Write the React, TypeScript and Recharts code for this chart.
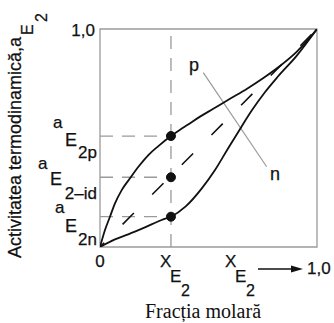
import React from 'react';
import { LineChart, Line, XAxis, YAxis, ReferenceArea, ReferenceLine, ReferenceDot } from 'recharts';

// curba p (abatere pozitiva)
const pX = [0, 0.023, 0.046, 0.069, 0.1, 0.138, 0.177, 0.223, 0.269, 0.327, 0.369, 0.4, 0.461, 0.522, 0.599, 0.676, 0.753, 0.829, 0.906, 0.96, 1];
const pY = [0, 0.078, 0.139, 0.2, 0.261, 0.315, 0.368, 0.422, 0.463, 0.509, 0.538, 0.558, 0.598, 0.634, 0.68, 0.725, 0.775, 0.83, 0.895, 0.952, 1];

// curba n (abatere negativa)
const nX = [0, 0.069, 0.13, 0.207, 0.284, 0.327, 0.395, 0.47, 0.53, 0.59, 0.652, 0.7, 0.76, 0.82, 0.906, 1];
const nY = [0, 0.035, 0.058, 0.09, 0.124, 0.139, 0.186, 0.27, 0.353, 0.452, 0.552, 0.627, 0.71, 0.782, 0.877, 1];

// solutie ideala
const idX = [0, 1];
const idY = [0, 1];

// compozitia aleasa si activitatile citite
const xE2 = 0.327;
const aValues = [0.139, 0.32, 0.509]; // n, id, p
const aSubs = ['2n', '2–id', '2p'];

const yTicks = [...aValues, 1];
const xTicks = [0, xE2, 1];

// linia de indicatie p - n
const leaderX = [0.476, 0.768];
const leaderY = [0.8, 0.368];
const curveLabels = ['p', 'n'];
const curveLabelX = [0.433, 0.806];
const curveLabelY = [0.807, 0.307];

const pData = pX.map((x, i) => ({ x, y: pY[i] }));
const nData = nX.map((x, i) => ({ x, y: nY[i] }));
const idData = idX.map((x, i) => ({ x, y: idY[i] }));

const SANS = 'Liberation Sans, Arial, sans-serif';
const SERIF = 'Liberation Serif, Times New Roman, serif';
const INK = '#111';
const GRAY = '#9a9a9a';
const TXT = { fontFamily: SANS, fill: INK, stroke: INK, strokeWidth: 0.25 };

// pozitia bucatilor de text pentru a, E si indice (n, id, p)
const aLayout = [
  { ax: 55, ay: -4, ex: 65, ey: 15, sy: 28 },
  { ax: 38, ay: -8, ex: 50, ey: 8, sy: 22 },
  { ax: 53, ay: -8, ex: 65, ey: 10, sy: 22 },
];

const YTick = (props: any) => {
  const { y, payload } = props;
  const v = payload.value;
  if (v === 1) {
    return (
      <text x={95} y={y + 7} textAnchor="end" fontSize={17} {...TXT}>1,0</text>
    );
  }
  const i = aValues.indexOf(v);
  if (i < 0) return null;
  const l = aLayout[i];
  return (
    <g {...TXT}>
      <text x={l.ax} y={y + l.ay} fontSize={17}>a</text>
      <text x={l.ex} y={y + l.ey} fontSize={18}>E</text>
      <text x={97} y={y + l.sy} fontSize={17} textAnchor="end">{aSubs[i]}</text>
    </g>
  );
};

const XE2 = ({ x }: { x: number }) => (
  <g {...TXT}>
    <text x={x} y={267} fontSize={17}>X</text>
    <text x={x + 10} y={282} fontSize={17}>E</text>
    <text x={x + 21} y={296} fontSize={16}>2</text>
  </g>
);

const XTick = (props: any) => {
  const { x, payload } = props;
  const v = payload.value;
  if (v === 0) {
    return <text x={x} y={267} textAnchor="middle" fontSize={17} {...TXT}>0</text>;
  }
  if (v === 1) {
    return (
      <g>
        <XE2 x={x - 92} />
        <line x1={x - 59} y1={269} x2={x - 24} y2={269} stroke={INK} strokeWidth={1.5} />
        <polygon points={`${x - 26},${265.5} ${x - 14},${269} ${x - 26},${272.5}`} fill={INK} />
        <text x={x - 10} y={274} fontSize={17} {...TXT}>1,0</text>
      </g>
    );
  }
  return <XE2 x={x - 11} />;
};

const YTitle = () => (
  <g transform="translate(21,258) rotate(-90)" {...TXT}>
    <text x={0} y={0} fontSize={18}>Activitatea termodinamică,a</text>
    <text x={223} y={12} fontSize={16}>E</text>
    <text x={236} y={26} fontSize={16}>2</text>
  </g>
);

const XTitle = () => (
  <text x={203} y={318} textAnchor="middle" fontSize={20} fontFamily={SERIF} fill={INK}>Fracția molară</text>
);

const CurveLabel = (text: string) => (props: any) => {
  const vb = props.viewBox || {};
  const cx = (vb.x ?? 0) + (vb.width ?? 0) / 2;
  const cy = (vb.y ?? 0) + (vb.height ?? 0) / 2;
  return (
    <text x={cx} y={cy} textAnchor="middle" fontSize={18} {...TXT}>{text}</text>
  );
};

const App: React.FC = () => {
  return (
    <div style={{ width: 334, height: 323, background: '#fff' }}>
      <style>{'body{margin:0}'}</style>
      <LineChart width={334} height={323} margin={{ top: 29, right: 17, left: 0, bottom: 0 }}>
        <XAxis
          type="number"
          dataKey="x"
          domain={[0, 1]}
          ticks={xTicks}
          tick={<XTick />}
          tickSize={0}
          tickMargin={0}
          axisLine={false}
          tickLine={false}
          height={76}
          interval={0}
          allowDataOverflow
          label={{ content: <XTitle /> }}
        />
        <YAxis
          type="number"
          dataKey="y"
          domain={[0, 1]}
          ticks={yTicks}
          tick={<YTick />}
          tickSize={0}
          tickMargin={3}
          axisLine={false}
          tickLine={false}
          width={100}
          interval={0}
          allowDataOverflow
          label={{ content: <YTitle /> }}
        />
        <ReferenceArea x1={0} x2={1} y1={0} y2={1} fill="none" stroke={GRAY} strokeWidth={1.3} fillOpacity={0} />
        <ReferenceLine x={xE2} stroke={GRAY} strokeWidth={1.3} strokeDasharray="13 9" />
        {aValues.map((v, i) => (
          <ReferenceLine
            key={`h-${i}`}
            segment={[{ x: 0, y: v }, { x: xE2, y: v }]}
            stroke={GRAY}
            strokeWidth={1.3}
            strokeDasharray="13 9"
          />
        ))}
        <ReferenceLine
          segment={[{ x: leaderX[0], y: leaderY[0] }, { x: leaderX[1], y: leaderY[1] }]}
          stroke={GRAY}
          strokeWidth={1.2}
        />
        <Line
          data={idData}
          dataKey="y"
          type="linear"
          stroke={INK}
          strokeWidth={1.6}
          strokeDasharray="16 26"
          strokeDashoffset={10}
          dot={false}
          isAnimationActive={false}
        />
        <Line data={pData} dataKey="y" type="monotone" stroke={INK} strokeWidth={1.8} dot={false} isAnimationActive={false} />
        <Line data={nData} dataKey="y" type="monotone" stroke={INK} strokeWidth={1.8} dot={false} isAnimationActive={false} />
        {aValues.map((v, i) => (
          <ReferenceDot key={`d-${i}`} x={xE2} y={v} r={4.5} fill={INK} stroke={INK} />
        ))}
        {curveLabels.map((t, i) => (
          <ReferenceDot
            key={`l-${i}`}
            x={curveLabelX[i]}
            y={curveLabelY[i]}
            r={1}
            fill="none"
            stroke="none"
            label={{ content: CurveLabel(t) }}
          />
        ))}
      </LineChart>
    </div>
  );
};

export default App;
